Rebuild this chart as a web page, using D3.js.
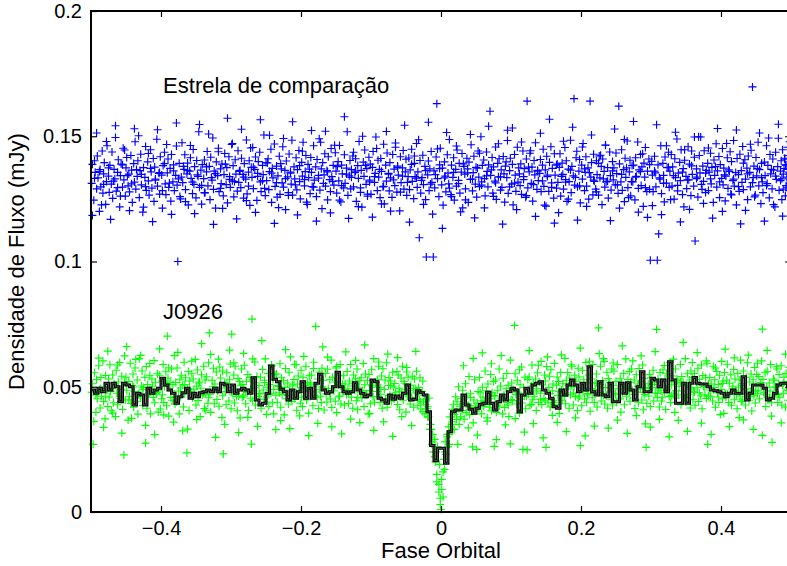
<!DOCTYPE html>
<html>
<head>
<meta charset="utf-8">
<script src="https://cdn.jsdelivr.net/npm/d3@7"></script>
<style>
  html, body { margin: 0; padding: 0; background: #fff; }
  svg { display: block; font-family: "Liberation Sans", Arial, Helvetica, sans-serif; }
</style>
</head>
<body>
<svg id="chart" width="787" height="566"></svg>
<script>
// Comparison star: orbital phase (in units of 0.001 cycle) and flux density (µJy)
const compPhase = [
-499,-498,-496,-495,-494,-492,-491,-490,-488,-487,-486,-484,-483,-482,-481,-479,-478,-477,-475,-474,
-473,-471,-470,-469,-467,-466,-465,-464,-462,-461,-459,-458,-457,-455,-454,-453,-451,-450,-449,-447,
-446,-445,-443,-442,-441,-439,-438,-437,-436,-434,-433,-431,-430,-429,-428,-426,-425,-423,-422,-421,
-419,-418,-417,-415,-414,-413,-411,-410,-409,-408,-406,-405,-403,-402,-401,-399,-398,-397,-395,-394,
-393,-391,-390,-389,-387,-386,-385,-383,-382,-381,-379,-378,-377,-376,-374,-373,-371,-370,-369,-367,
-366,-365,-363,-362,-361,-359,-358,-357,-355,-354,-353,-352,-350,-349,-347,-346,-345,-343,-342,-341,
-339,-338,-337,-335,-334,-333,-331,-330,-329,-327,-326,-325,-324,-322,-321,-319,-318,-317,-315,-314,
-313,-311,-310,-309,-307,-306,-305,-303,-302,-301,-299,-298,-297,-296,-294,-293,-291,-290,-289,-287,
-286,-285,-283,-282,-281,-279,-278,-277,-275,-274,-273,-271,-270,-269,-268,-266,-265,-263,-262,-261,
-259,-258,-257,-255,-254,-253,-251,-250,-249,-247,-246,-245,-243,-242,-241,-240,-238,-237,-235,-234,
-233,-231,-230,-229,-227,-226,-225,-223,-222,-221,-219,-218,-217,-215,-214,-213,-212,-210,-209,-207,
-206,-205,-203,-202,-201,-199,-198,-197,-195,-194,-193,-191,-190,-189,-187,-186,-185,-184,-182,-181,
-179,-178,-177,-175,-174,-173,-171,-170,-169,-167,-166,-165,-163,-162,-161,-159,-158,-157,-156,-154,
-153,-151,-150,-149,-147,-146,-145,-143,-142,-141,-139,-138,-137,-135,-134,-133,-131,-130,-129,-128,
-126,-125,-123,-122,-121,-119,-118,-117,-115,-114,-113,-111,-110,-109,-107,-106,-105,-103,-102,-101,
-100,-98,-97,-95,-94,-93,-91,-90,-89,-87,-86,-85,-83,-82,-81,-79,-78,-77,-75,-74,
-73,-72,-70,-69,-67,-66,-65,-63,-62,-61,-59,-58,-57,-55,-54,-53,-51,-50,-49,-47,
-46,-45,-44,-42,-41,-39,-38,-37,-35,-34,-33,-31,-30,-29,-27,-26,-25,-23,-22,-21,
-19,-18,-17,-16,-14,-13,-11,-10,-9,-7,-6,-5,-3,-2,-1,1,2,3,5,6,
7,9,10,11,12,14,15,17,18,19,21,22,23,25,26,27,29,30,31,33,
34,35,37,38,39,40,42,43,45,46,47,49,50,51,53,54,55,57,58,59,
61,62,63,65,66,67,68,70,71,73,74,75,77,78,79,81,82,83,85,86,
87,89,90,91,93,94,95,96,98,99,101,102,103,105,106,107,109,110,111,113,
114,115,117,118,119,121,122,123,124,126,127,129,130,131,133,134,135,137,138,139,
141,142,143,145,146,147,149,150,151,152,154,155,157,158,159,161,162,163,165,166,
167,169,170,171,173,174,175,177,178,179,180,182,183,185,186,187,189,190,191,193,
194,195,197,198,199,201,202,203,205,206,207,208,210,211,213,214,215,217,218,219,
221,222,223,225,226,227,229,230,231,233,234,235,236,238,239,241,242,243,245,246,
247,249,250,251,253,254,255,257,258,259,261,262,263,264,266,267,269,270,271,273,
274,275,277,278,279,281,282,283,285,286,287,289,290,291,292,294,295,297,298,299,
301,302,303,305,306,307,309,310,311,313,314,315,317,318,319,320,322,323,325,326,
327,329,330,331,333,334,335,337,338,339,341,342,343,345,346,347,348,350,351,353,
354,355,357,358,359,361,362,363,365,366,367,369,370,371,373,374,375,376,378,379,
381,382,383,385,386,387,389,390,391,393,394,395,397,398,399,401,402,403,404,406,
407,409,410,411,413,414,415,417,418,419,421,422,423,425,426,427,429,430,431,432,
434,435,437,438,439,441,442,443,445,446,447,449,450,451,453,454,455,457,458,459,
460,462,463,465,466,467,469,470,471,473,474,475,477,478,479,481,482,483,485,486,
487,488,489,490,491,492,493,494,495,496,497,498,499,500,487,489,491,493,495,497,
-498,-495,-492,-488,-485,-482,-478,-475,-472,-468,-465,-462,-458,-455,-452,-448,-445,-442,-438,-435,
-432,-428,-425,-422,-418,-415,-412,-408,-405,-402,-398,-395,-392,-388,-385,-382,-378,-375,-372,-368,
-365,-362,-358,-355,-352,-348,-345,-342,-338,-335,-332,-328,-325,-322,-318,-315,-312,-308,-305,-302,
-298,-295,-292,-288,-285,-282,-278,-275,-272,-268,-265,-262,-258,-255,-252,-248,-245,-242,-238,-235,
-232,-228,-225,-222,-218,-215,-212,-208,-205,-202,-198,-195,-192,-188,-185,-182,-178,-175,-172,-168,
-165,-162,-158,-155,-152,-148,-145,-142,-138,-135,-132,-128,-125,-122,-118,-115,-112,-108,-105,-102,
-98,-95,-92,-88,-85,-82,-78,-75,-72,-68,-65,-62,-58,-55,-52,-48,-45,-42,-38,-35,
-32,-28,-25,-22,-18,-15,-12,-8,-5,-2,2,5,8,12,15,18,22,25,28,32,
35,38,42,45,48,52,55,58,62,65,68,72,75,78,82,85,88,92,95,98,
102,105,108,112,115,118,122,125,128,132,135,138,142,145,148,152,155,158,162,165,
168,172,175,178,182,185,188,192,195,198,202,205,208,212,215,218,222,225,228,232,
235,238,242,245,248,252,255,258,262,265,268,272,275,278,282,285,288,292,295,298,
302,305,308,312,315,318,322,325,328,332,335,338,342,345,348,352,355,358,362,365,
368,372,375,378,382,385,388,392,395,398,402,405,408,412,415,418,422,425,428,432,
435,438,442,445,448,452,455,458,462,465,468,472,475,478,482,485,488,492,495,498
];
const compFlux = [
131.2,138.8,124.5,140.2,135.6,129.0,142.1,133.4,120.0,136.7,129.8,144.1,127.3,135.0,139.5,122.8,131.9,146.2,134.1,127.6,
138.4,130.9,143.7,125.2,136.8,133.0,149.5,128.1,135.6,140.6,121.8,134.3,138.9,129.7,145.2,132.6,126.1,137.4,141.5,130.2,
134.9,127.8,142.3,136.5,123.6,139.1,131.7,147.8,128.9,134.0,140.2,125.5,136.3,142.8,130.6,119.7,137.5,133.6,145.9,128.4,
139.8,132.2,126.5,144.6,135.8,129.3,141.1,124.0,137.7,132.9,148.8,130.1,135.2,126.9,141.8,134.5,121.3,138.3,143.6,131.0,
126.7,135.4,140.9,129.6,137.2,124.1,142.7,131.8,138.6,128.3,134.4,146.1,130.5,100.0,139.2,125.9,133.7,147.4,131.5,136.8,
142.6,128.7,135.0,139.3,122.6,136.1,141.4,133.2,127.1,144.7,130.8,137.9,125.4,140.3,134.0,151.8,129.6,136.5,122.9,138.7,
133.1,140.5,127.4,135.8,143.9,130.2,138.0,124.7,141.6,132.5,149.3,128.8,136.1,121.3,139.8,134.3,145.2,127.9,137.0,131.1,
138.9,126.2,134.7,143.1,130.7,137.5,123.4,141.8,133.9,129.6,146.7,132.2,138.3,125.8,140.6,134.9,128.1,144.2,131.6,136.4,
129.5,141.2,134.8,125.3,139.1,132.9,148.5,127.0,135.7,140.2,122.4,137.6,133.6,145.5,129.1,136.8,141.7,124.4,135.2,139.9,
143.6,131.8,127.9,138.4,134.7,150.5,126.3,139.5,132.3,141.0,128.7,135.9,144.8,123.6,137.2,133.4,146.9,130.0,138.1,125.7,
134.2,142.0,126.8,139.1,131.4,145.8,129.7,136.4,120.7,140.1,133.8,127.5,142.9,135.3,130.9,148.4,126.5,137.8,133.0,141.4,
128.6,136.7,144.3,131.9,125.0,139.6,134.1,147.6,130.2,135.9,142.3,122.8,138.8,133.5,127.1,141.5,135.6,129.9,146.2,132.5,
137.8,125.9,140.7,133.3,149.0,128.5,137.0,121.1,139.5,134.6,143.0,130.1,136.3,124.6,141.8,132.7,127.9,145.1,133.9,138.4,
130.5,143.4,136.1,127.3,139.9,132.2,146.3,123.8,138.5,135.0,129.4,142.6,131.2,137.3,151.8,126.4,134.2,140.3,129.0,136.7,
142.1,129.8,135.5,141.0,124.0,138.3,133.2,147.9,127.6,136.4,121.7,139.7,134.0,144.5,130.8,137.1,126.1,141.6,132.5,138.9,
126.8,137.6,143.9,131.6,135.2,149.7,128.3,140.4,133.7,125.5,141.1,136.0,129.8,146.8,123.0,138.5,132.1,143.3,134.9,128.2,
139.5,133.4,125.6,142.7,136.9,130.3,145.6,127.7,138.1,134.5,120.2,141.8,131.5,137.4,144.3,128.9,135.8,140.8,126.4,133.9,
141.3,128.7,136.6,144.8,132.0,125.1,139.2,133.9,147.1,129.6,135.8,109.5,140.3,127.3,133.5,142.4,130.7,138.0,124.7,101.8,
134.6,140.1,128.3,137.0,143.9,131.6,101.8,136.2,129.4,141.7,163.0,133.1,125.9,138.6,145.2,130.6,137.3,122.5,139.8,134.1,
127.8,142.6,135.3,131.0,148.7,126.7,138.5,133.6,141.4,124.5,136.8,130.1,144.5,132.4,139.2,127.3,135.7,143.1,121.4,138.0,
134.9,129.0,141.2,137.0,123.6,139.7,132.8,146.6,128.2,135.5,142.0,130.9,137.6,125.7,144.1,133.7,129.9,149.8,131.8,138.4,
140.5,133.1,126.2,143.7,136.0,129.8,138.6,160.0,134.4,141.5,127.3,137.8,132.1,145.7,124.8,139.2,133.8,141.0,128.5,136.6,
129.6,141.9,135.0,123.7,139.8,133.5,148.3,127.2,136.3,141.2,130.9,138.8,122.6,142.7,134.5,128.0,145.6,131.7,137.4,130.3,
139.0,126.8,144.1,132.7,137.1,125.6,140.9,164.0,129.4,135.8,143.2,131.2,137.7,124.1,140.3,134.6,147.4,128.8,136.1,132.3,
135.2,140.7,127.9,138.5,144.8,130.0,136.6,122.1,142.0,133.9,128.0,139.6,145.8,131.4,137.2,125.3,143.0,134.5,129.3,138.9,
131.6,137.6,143.0,126.1,139.3,134.8,128.9,145.5,132.7,140.2,124.0,136.9,131.9,148.4,127.5,138.0,134.2,165.0,130.5,141.4,
144.0,129.8,136.1,140.7,123.4,138.5,132.9,147.1,128.3,135.6,141.8,130.1,137.4,124.9,164.0,133.7,139.5,126.6,142.8,132.0,
128.9,140.2,134.7,126.5,142.1,133.4,138.0,122.7,140.9,136.0,129.7,146.4,131.8,137.5,125.3,143.7,134.3,128.5,139.9,132.6,
137.4,130.6,143.3,135.1,127.2,162.0,139.0,131.8,144.6,128.4,136.7,123.9,141.2,133.6,148.1,129.5,135.8,140.4,126.2,138.3,
131.8,138.5,124.6,141.4,134.0,147.7,129.2,136.6,142.7,130.3,137.8,122.0,139.3,133.7,145.5,127.9,136.1,140.9,128.8,100.5,
140.0,134.5,127.9,142.0,135.4,129.8,100.5,138.6,111.0,132.9,146.2,127.1,139.2,134.4,123.8,141.7,131.3,137.5,143.6,129.6,
136.1,142.7,130.1,137.8,124.9,141.0,133.5,148.9,128.2,135.3,139.6,132.3,144.6,126.7,137.1,121.8,140.4,134.0,129.1,145.8,
132.6,138.9,126.3,144.1,134.8,130.1,141.6,108.2,137.0,133.7,125.7,142.3,135.4,149.7,128.8,138.1,132.0,144.2,127.5,136.4,
139.2,128.3,135.7,143.2,131.0,137.6,123.6,140.5,134.4,147.0,129.7,136.2,141.9,125.5,138.7,133.2,145.1,130.6,137.3,124.2,
134.1,141.4,129.2,136.6,143.8,126.9,139.9,132.3,148.3,130.1,135.5,122.6,141.1,134.7,128.0,142.8,136.3,131.6,145.9,128.7,
140.6,132.9,137.3,124.7,142.1,135.6,129.8,144.4,169.7,133.5,138.1,126.5,141.5,134.2,147.6,130.2,136.7,123.1,139.2,131.8,
127.5,139.7,134.3,146.2,131.1,138.4,125.4,142.7,135.0,129.0,140.9,136.5,121.8,143.6,132.8,137.9,149.2,128.4,136.1,140.2,
133.0,144.6,128.9,137.1,140.8,126.2,138.5,133.7,142.3,129.6,135.7,147.8,131.3,139.0,124.7,134.9,141.2,130.3,136.8,128.3,
118.4,133.2,151.3,135.9,122.6,130.8,147.9,137.4,116.8,132.1,154.2,129.5,126.1,138.6,144.5,134.3,120.3,131.0,153.0,136.7,
150.2,134.8,121.7,129.9,143.1,137.2,115.9,132.5,152.6,135.5,128.3,139.1,146.7,131.3,118.8,136.2,155.3,133.0,125.0,138.0,
123.9,136.4,146.3,131.7,119.1,134.6,154.7,130.4,127.5,137.8,150.9,133.5,114.8,135.1,143.8,129.2,121.2,138.9,157.2,132.8,
147.1,131.9,117.0,136.0,152.8,133.7,124.3,130.1,145.3,137.6,119.6,134.0,156.6,132.3,129.2,139.4,150.4,135.3,115.2,131.5,
121.5,137.0,149.1,133.1,126.4,135.7,155.8,130.6,118.6,138.3,144.0,132.7,123.7,136.9,152.3,129.7,116.1,134.4,147.6,131.2,
152.0,135.8,119.4,132.0,146.4,137.9,124.5,130.3,157.8,134.9,117.2,133.6,143.6,136.1,121.9,129.4,150.0,138.4,126.9,131.8,
117.7,133.9,145.1,136.8,123.0,130.0,151.9,135.2,120.1,132.6,147.3,137.5,127.7,134.1,154.4,131.6,115.7,138.8,142.1,133.3,
148.6,132.4,122.8,136.3,155.6,130.9,118.9,134.7,144.9,137.1,113.2,133.4,151.5,129.3,125.9,135.6,146.1,131.1,119.8,139.0,
124.6,135.4,150.7,132.9,117.4,137.3,143.2,130.5,121.4,134.2,154.0,136.6,126.0,131.4,147.0,133.8,114.9,138.1,152.4,129.8,
153.3,131.3,120.7,135.0,147.7,133.9,126.3,137.7,144.2,130.7,118.0,136.4,151.2,132.2,122.5,134.5,156.8,129.6,115.3,138.5,
119.5,134.0,148.0,131.7,124.9,136.5,153.6,133.6,116.5,130.2,145.7,137.0,122.0,135.5,150.5,132.5,127.8,139.2,142.4,133.0,
146.5,132.0,116.3,136.2,152.9,130.6,121.3,134.8,148.7,137.4,125.5,131.9,155.9,133.7,119.7,135.9,143.0,129.5,117.6,138.7,
122.3,136.1,154.6,133.4,118.7,131.2,146.2,137.6,124.7,134.3,151.6,130.4,115.8,135.7,144.6,132.6,120.8,138.2,149.7,133.1,
149.8,130.8,123.2,135.3,145.3,133.0,117.3,137.9,153.1,131.8,120.0,134.6,147.1,136.0,126.6,132.9,152.5,129.9,115.0,139.3,
120.4,135.0,146.8,131.5,125.8,137.2,151.3,133.5,116.1,130.3,149.3,136.8,122.7,134.1,154.8,132.3,118.1,138.6,145.6,131.0
];

// J0926: orbital phase (in units of 0.001 cycle) and flux density (µJy)
const targetPhase = [
-499,-498,-497,-495,-494,-493,-492,-491,-489,-488,-487,-486,-485,-483,-482,-481,-480,-479,-477,-476,
-475,-474,-473,-471,-470,-469,-468,-467,-465,-464,-463,-462,-461,-459,-458,-457,-456,-455,-453,-452,
-451,-450,-449,-447,-446,-445,-444,-443,-441,-440,-439,-438,-437,-435,-434,-433,-432,-431,-429,-428,
-427,-426,-425,-423,-422,-421,-420,-419,-417,-416,-415,-414,-413,-411,-410,-409,-408,-407,-405,-404,
-403,-402,-401,-399,-398,-397,-396,-395,-393,-392,-391,-390,-389,-387,-386,-385,-384,-383,-381,-380,
-379,-378,-377,-375,-374,-373,-372,-371,-369,-368,-367,-366,-365,-363,-362,-361,-360,-359,-357,-356,
-355,-354,-353,-351,-350,-349,-348,-347,-345,-344,-343,-342,-341,-339,-338,-337,-336,-335,-333,-332,
-331,-330,-329,-327,-326,-325,-324,-323,-321,-320,-319,-318,-317,-315,-314,-313,-312,-311,-309,-308,
-307,-306,-305,-303,-302,-301,-300,-299,-297,-296,-295,-294,-293,-291,-290,-289,-288,-287,-285,-284,
-283,-282,-281,-279,-278,-277,-276,-275,-273,-272,-271,-270,-269,-267,-266,-265,-264,-263,-261,-260,
-259,-258,-257,-255,-254,-253,-252,-251,-249,-248,-247,-246,-245,-243,-242,-241,-240,-239,-237,-236,
-235,-234,-233,-231,-230,-229,-228,-227,-225,-224,-223,-222,-221,-219,-218,-217,-216,-215,-213,-212,
-211,-210,-209,-207,-206,-205,-204,-203,-201,-200,-199,-198,-197,-195,-194,-193,-192,-191,-189,-188,
-187,-186,-185,-183,-182,-181,-180,-179,-177,-176,-175,-174,-173,-171,-170,-169,-168,-167,-165,-164,
-163,-162,-161,-159,-158,-157,-156,-155,-153,-152,-151,-150,-149,-147,-146,-145,-144,-143,-141,-140,
-139,-138,-137,-135,-134,-133,-132,-131,-129,-128,-127,-126,-125,-123,-122,-121,-120,-119,-117,-116,
-115,-114,-113,-111,-110,-109,-108,-107,-105,-104,-103,-102,-101,-99,-98,-97,-96,-95,-93,-92,
-91,-90,-89,-87,-86,-85,-84,-83,-81,-80,-79,-78,-77,-75,-74,-73,-72,-71,-69,-68,
-67,-66,-65,-63,-62,-61,-60,-59,-57,-56,-55,-54,-53,-51,-50,-49,-48,-47,-45,-44,
-43,-42,-41,-39,-38,-37,-36,-35,-33,-32,-31,-30,-29,-27,-26,-25,-24,-23,-21,-20,
-19,-18,-17,-15,-14,-13,-12,-11,-9,-8,-7,-6,-5,-3,-2,-1,0,1,3,4,
5,6,7,9,10,11,12,13,15,16,17,18,19,21,22,23,24,25,27,28,
29,30,31,33,34,35,36,37,39,40,41,42,43,45,46,47,48,49,51,52,
53,54,55,57,58,59,60,61,63,64,65,66,67,69,70,71,72,73,75,76,
77,78,79,81,82,83,84,85,87,88,89,90,91,93,94,95,96,97,99,100,
101,102,103,105,106,107,108,109,111,112,113,114,115,117,118,119,120,121,123,124,
125,126,127,129,130,131,132,133,135,136,137,138,139,141,142,143,144,145,147,148,
149,150,151,153,154,155,156,157,159,160,161,162,163,165,166,167,168,169,171,172,
173,174,175,177,178,179,180,181,183,184,185,186,187,189,190,191,192,193,195,196,
197,198,199,201,202,203,204,205,207,208,209,210,211,213,214,215,216,217,219,220,
221,222,223,225,226,227,228,229,231,232,233,234,235,237,238,239,240,241,243,244,
245,246,247,249,250,251,252,253,255,256,257,258,259,261,262,263,264,265,267,268,
269,270,271,273,274,275,276,277,279,280,281,282,283,285,286,287,288,289,290,291,
292,293,294,296,297,298,299,300,302,303,304,305,306,308,309,310,311,312,313,314,
315,316,317,319,320,321,322,323,325,326,327,328,329,331,332,333,334,335,336,337,
338,339,340,342,343,344,345,346,348,349,350,351,352,354,355,356,357,358,359,360,
361,362,363,365,366,367,368,369,371,372,373,374,375,377,378,379,380,381,382,383,
384,385,386,388,389,390,391,392,394,395,396,397,398,400,401,402,403,404,405,406,
407,408,409,411,412,413,414,415,417,418,419,420,421,423,424,425,426,427,428,429,
430,431,432,434,435,436,437,438,440,441,442,443,444,446,447,448,449,450,451,452,
453,454,455,457,458,459,460,461,463,464,465,466,467,469,470,471,472,473,474,475,
476,477,478,480,481,482,483,484,486,487,488,489,490,492,493,494,495,496,497,498,
-496,-492,-489,-486,-482,-479,-476,-472,-469,-466,-462,-459,-456,-452,-449,-446,-442,-439,-436,-432,
-429,-426,-422,-419,-416,-412,-409,-406,-402,-399,-396,-392,-389,-386,-382,-379,-376,-372,-369,-366,
-362,-359,-356,-352,-349,-346,-342,-339,-336,-332,-329,-326,-322,-319,-316,-312,-309,-306,-302,-299,
-296,-292,-289,-286,-282,-279,-276,-272,-269,-266,-262,-259,-256,-252,-249,-246,-242,-239,-236,-232,
-229,-226,-222,-219,-216,-212,-209,-206,-202,-199,-196,-192,-189,-186,-182,-179,-176,-172,-169,-166,
-162,-159,-156,-152,-149,-146,-142,-139,-136,-132,-129,-126,-122,-119,-116,-112,-109,-106,-102,-99,
-96,-92,-89,-86,-82,-79,-76,-72,-69,-66,-62,-59,-56,-52,-49,-46,-42,-39,-36,-32,
-29,-26,-22,-19,-16,-12,-9,-6,-3,-1,1,3,6,9,12,16,19,22,26,29,
32,36,39,42,46,49,52,56,59,62,66,69,72,76,79,82,86,89,92,96,
99,102,106,109,112,116,119,122,126,129,132,136,139,142,146,149,152,156,159,162,
166,169,172,176,179,182,186,189,192,196,199,202,206,209,212,216,219,222,226,229,
232,236,239,242,246,249,252,256,259,262,266,269,272,276,279,282,286,289,292,296,
299,302,306,309,312,316,319,322,326,329,332,336,339,342,346,349,352,356,359,362,
366,369,372,376,379,382,386,389,392,396,399,402,406,409,412,416,419,422,426,429,
432,436,439,442,446,449,452,456,459,462,466,469,472,476,479,482,486,489,492,496
];
const targetFlux = [
47.8,51.2,27.0,55.6,46.7,39.8,52.9,45.2,58.4,48.9,41.5,53.7,46.2,60.3,44.1,49.8,37.2,54.5,48.6,42.1,
53.1,45.9,58.8,40.4,49.3,54.7,43.6,51.2,38.1,56.6,47.4,42.8,51.9,59.7,45.3,49.0,54.2,40.9,22.8,62.3,
44.7,53.8,48.6,36.7,52.1,46.2,59.4,43.3,50.5,55.1,41.8,48.2,57.5,44.0,52.7,39.1,46.9,61.2,45.5,50.3,
56.3,42.5,49.7,53.8,27.5,58.1,41.4,50.9,47.4,54.6,39.2,48.8,53.1,45.7,60.4,43.6,51.8,47.1,55.2,39.9,
48.4,54.6,41.1,52.3,46.8,58.9,43.7,50.1,56.0,42.4,70.2,53.5,38.3,51.8,45.7,57.1,44.6,50.9,62.4,43.0,
51.7,44.0,57.5,48.3,39.2,52.8,46.1,54.6,50.7,41.9,59.8,47.2,53.6,23.6,49.0,56.1,40.5,52.3,47.9,55.2,
45.6,53.1,48.8,60.9,42.7,50.3,56.7,44.5,51.9,38.1,49.4,54.8,46.6,58.2,41.3,52.7,47.1,54.0,43.4,59.6,
71.5,47.0,39.8,52.6,48.7,57.4,43.2,51.1,55.9,44.9,48.4,61.0,42.2,53.5,49.5,37.7,56.3,23.2,51.7,48.1,
42.8,55.6,49.7,44.3,52.8,59.1,41.2,71.0,46.8,54.7,43.5,58.2,49.0,40.4,53.3,46.3,52.1,37.6,57.1,45.8,
50.9,46.3,58.6,43.2,52.2,47.7,54.9,40.5,53.8,49.2,27.1,77.0,44.6,51.6,59.9,42.7,48.3,54.1,46.1,50.5,
47.3,53.8,41.4,56.9,48.7,45.0,52.6,61.1,43.9,49.8,55.3,42.1,50.9,47.4,58.7,43.6,53.0,39.2,54.8,46.6,
55.1,43.8,50.5,47.6,59.2,41.8,53.6,46.9,52.4,38.8,49.7,57.3,45.2,51.5,43.1,55.8,48.7,61.9,44.1,50.3,
46.7,52.9,45.2,58.8,40.6,51.1,54.3,47.9,43.4,56.6,49.6,42.1,53.8,46.2,50.5,58.2,44.7,51.8,39.5,54.4,
51.5,48.2,54.7,42.4,59.8,46.5,50.3,74.1,45.6,53.1,41.3,55.9,48.8,43.7,57.4,49.9,52.6,40.7,55.3,47.1,
43.9,57.0,49.3,52.8,45.1,60.6,41.7,53.8,48.4,51.9,44.2,57.5,39.7,50.7,54.6,46.3,58.9,43.1,51.2,47.8,
54.4,42.7,51.1,46.9,56.1,49.2,43.3,52.3,58.9,45.8,50.3,41.4,54.7,48.6,53.2,44.4,57.1,40.8,49.6,52.4,
47.6,53.6,45.5,59.3,42.1,50.8,55.1,46.7,52.6,39.2,54.9,48.5,43.2,56.8,50.3,45.9,61.2,43.8,51.7,48.1,
52.8,46.1,58.2,43.7,49.6,54.3,41.4,57.2,48.9,52.7,45.0,59.6,41.8,50.5,53.7,46.6,52.3,44.2,55.8,49.9,
45.2,51.3,47.8,56.1,42.9,54.7,49.4,40.8,53.5,47.1,58.2,44.6,52.1,49.0,39.9,55.9,46.3,53.8,48.4,43.1,
50.6,45.7,54.2,41.8,53.1,47.5,49.3,56.2,42.6,49.7,44.8,53.6,41.1,48.2,52.3,43.9,46.5,39.2,44.8,41.2,
42.0,38.0,45.5,35.0,33.0,27.0,31.0,24.0,29.0,20.0,24.0,15.0,26.0,11.0,19.0,5.5,1.0,13.0,6.0,21.0,
17.0,28.0,23.0,30.0,26.0,34.0,31.0,38.0,35.0,41.0,33.0,43.0,39.0,46.0,37.0,44.0,27.0,50.0,42.0,38.0,
45.2,40.5,48.6,37.1,43.8,51.2,39.7,46.3,42.5,54.1,38.9,47.2,41.8,26.0,35.6,44.7,52.8,40.2,25.0,43.3,
48.1,41.5,53.7,44.3,39.2,49.8,45.9,42.1,56.3,43.7,48.4,37.6,51.1,45.2,42.9,54.9,40.4,47.6,52.1,26.2,
46.2,52.7,39.8,48.6,44.1,57.1,42.3,50.3,45.6,39.2,53.4,46.8,41.7,49.2,55.3,43.7,50.6,38.1,27.2,44.9,
51.5,44.4,48.9,74.5,55.2,46.9,43.1,52.6,47.5,39.4,50.8,45.1,57.9,25.0,49.7,46.3,53.8,41.2,24.8,52.9,
47.1,53.9,42.6,50.3,58.7,44.8,51.4,46.2,53.1,40.5,49.2,55.6,43.7,51.8,47.4,60.1,42.9,50.7,45.3,54.7,
52.3,25.8,58.1,43.6,49.7,54.2,41.9,56.8,48.4,51.1,44.6,59.3,42.8,50.6,53.9,46.5,52.1,39.3,55.7,48.7,
44.6,51.2,47.9,61.3,43.2,52.6,49.1,55.7,41.4,53.5,46.8,50.4,58.2,42.7,49.9,54.6,46.1,52.2,40.5,57.4,
53.9,46.3,26.5,42.4,56.6,48.2,52.8,45.1,59.7,43.8,51.6,47.3,54.7,40.2,49.3,53.1,45.6,58.9,43.7,51.2,
48.8,55.1,41.9,73.5,47.7,50.9,58.2,44.3,52.4,46.5,60.1,43.1,49.7,55.8,41.4,53.3,47.9,51.6,44.8,57.1,
42.7,50.4,56.3,46.8,52.1,43.7,58.9,49.2,45.5,53.4,39.9,51.7,47.6,55.3,42.8,50.6,61.1,46.2,52.9,48.6,
56.1,44.2,51.8,48.7,60.3,45.5,52.7,41.3,54.8,47.9,50.2,43.6,57.3,49.1,52.1,44.7,58.7,40.8,53.4,46.9,
49.6,25.8,43.4,51.2,46.3,54.9,42.1,53.6,49.7,56.6,44.3,51.8,47.5,72.9,45.8,53.1,49.2,41.9,55.7,48.4,
44.3,51.9,56.7,47.6,53.1,40.9,55.2,48.8,52.4,46.1,59.7,43.7,50.8,54.3,47.2,51.6,39.8,57.1,45.5,53.0,
52.4,46.7,50.2,58.9,42.8,54.1,48.3,51.7,45.6,61.2,43.9,50.4,55.2,46.8,52.7,41.5,56.3,49.1,53.6,44.8,
47.9,55.3,42.6,51.8,49.6,57.4,44.1,52.9,46.3,58.7,41.2,54.5,50.2,46.8,53.6,45.3,59.4,27.0,51.1,48.7,
53.7,46.2,51.1,44.3,58.2,49.7,52.8,41.8,56.1,47.6,50.9,43.7,54.6,48.9,60.1,45.2,52.3,39.4,55.7,47.4,
45.8,52.6,59.0,43.7,51.4,47.3,54.8,42.6,50.2,56.9,44.8,53.1,48.5,41.2,55.3,49.6,52.7,46.3,60.6,44.1,
51.2,44.7,56.3,48.9,42.7,53.8,47.1,59.6,44.6,51.9,48.2,55.1,40.3,52.8,46.4,57.7,43.5,50.8,54.9,47.2,
48.6,54.1,45.2,51.7,60.3,73.0,52.9,47.8,55.6,42.1,49.8,56.2,44.7,51.5,48.3,58.9,43.8,27.8,46.7,53.1,
52.6,46.3,49.8,57.1,43.7,51.2,54.9,45.8,58.4,42.7,50.6,47.2,53.8,41.9,55.3,48.7,52.1,44.6,57.8,49.3,
36.2,47.5,61.4,49.3,33.8,45.9,64.2,48.1,39.5,50.6,58.7,46.3,31.5,51.8,66.0,44.7,37.4,49.9,60.9,47.0,
62.5,48.8,34.6,46.6,59.3,50.2,30.9,47.7,65.1,45.2,38.8,51.3,57.6,48.4,35.9,46.0,63.7,49.5,32.4,50.9,
33.1,49.1,60.2,46.8,36.9,51.5,67.2,47.3,40.6,45.6,62.9,50.0,29.8,48.6,57.9,46.4,35.0,51.1,64.6,47.8,
59.6,46.1,31.7,50.4,63.3,48.0,37.8,45.4,61.1,49.6,34.2,47.1,68.4,51.7,39.0,46.9,58.3,48.9,32.9,50.1,
36.5,48.3,64.8,46.5,33.3,50.8,59.0,47.6,38.4,45.8,62.1,49.4,30.5,51.0,57.3,47.9,35.4,46.2,65.9,48.7,
61.8,47.2,34.0,50.3,58.1,46.0,31.2,49.0,63.9,47.4,37.1,51.4,60.5,45.7,35.7,48.5,66.7,46.7,39.3,50.7,
32.6,49.8,59.9,47.0,36.0,45.3,63.0,50.5,30.2,46.6,61.6,48.2,38.1,51.2,57.7,46.3,34.5,49.2,64.1,47.7,
44.0,40.0,43.0,38.0,33.0,28.0,22.0,12.0,8.0,3.0,9.0,16.0,24.0,31.0,27.0,36.0,33.0,40.0,35.0,43.0,
58.4,43.1,33.6,45.7,61.3,42.4,30.7,47.6,63.5,44.2,36.3,41.8,59.2,46.5,28.9,43.9,62.4,45.1,34.8,42.7,
60.6,44.6,37.3,47.9,56.8,43.5,31.9,46.2,64.4,42.9,35.3,48.3,58.6,45.0,29.6,44.4,61.9,47.2,38.6,43.8,
35.8,48.1,62.7,46.1,32.1,50.4,58.8,47.5,37.6,45.5,65.4,49.7,30.4,46.8,60.0,48.6,34.3,51.6,63.2,47.1,
61.2,46.4,33.5,49.5,59.5,47.4,36.7,45.1,66.3,50.2,31.4,48.0,57.1,46.9,38.5,51.1,62.3,47.8,35.2,49.3,
33.9,50.9,64.0,47.3,37.0,45.6,58.5,49.0,30.0,46.5,61.0,48.4,36.6,51.9,67.7,46.0,32.2,49.7,59.7,47.9,
63.6,47.6,35.5,50.0,60.3,46.3,31.0,48.8,57.5,45.9,38.9,51.3,65.0,47.2,34.1,49.1,61.5,46.7,37.7,50.5,
36.8,49.4,62.6,46.0,33.0,48.2,59.4,50.8,30.6,47.0,64.5,45.3,38.3,49.9,58.0,46.9,35.6,51.4,63.0,48.5
];

// J0926 binned light curve (µJy), equal-width phase bins starting at binStart
const binStart = -0.5;
const binWidth = 0.005;
const binFlux = [
48.7,47.4,49.4,48.0,51.4,48.7,51.4,50.0,44.0,51.4,
50.7,50.0,42.7,47.4,46.7,42.7,49.4,47.4,48.7,49.4,
53.4,50.7,48.7,47.4,43.4,46.0,47.6,49.4,45.4,47.4,
46.0,47.6,48.0,48.7,48.0,49.4,48.0,51.4,50.7,48.0,
50.7,47.4,48.7,49.4,48.7,47.4,53.6,44.7,42.7,43.4,
47.4,58.3,53.0,52.0,49.0,48.0,44.7,48.7,45.4,48.0,
52.0,45.4,49.4,45.4,51.4,55.0,48.7,47.4,48.0,50.0,
55.8,50.0,48.0,47.4,48.0,51.6,48.7,47.4,46.0,46.7,
52.7,52.0,45.4,44.7,43.4,46.7,45.0,46.3,45.4,47.4,
50.7,44.7,45.0,48.4,47.6,46.7,
40.0,26.5,20.5,25.4,25.4,19.5,32.0,40.0,
40.7,40.7,46.7,42.7,41.0,39.4,41.4,43.0,43.4,47.8,
43.4,40.7,44.0,46.7,44.7,48.0,49.4,48.7,40.0,46.7,
49.4,47.4,50.7,51.4,52.0,48.7,47.4,45.4,42.0,41.4,
48.7,46.7,50.7,52.7,50.7,48.0,51.4,48.7,58.0,48.0,
46.7,52.0,46.7,46.0,
51.4,44.0,44.0,51.4,47.4,51.6,48.7,44.7,50.0,56.0,
48.0,48.0,53.4,52.7,50.0,52.7,48.0,60.0,52.7,43.4,
43.4,51.4,43.4,51.4,53.7,51.4,51.1,51.1,50.0,48.7,
48.4,48.0,47.4,46.0,47.4,48.7,47.4,47.4,54.0,44.7,
47.4,50.7,50.7,50.7,49.4,44.7,45.4,47.4,50.7,51.4,
51.4,50.0
];

// Axis ticks and text
const xTicks = [-0.4, -0.2, 0, 0.2, 0.4];
const yTicks = [0, 0.05, 0.1, 0.15, 0.2];
const xTitle = "Fase Orbital";
const yTitle = "Densidade de Fluxo (mJy)";
const compLabel = "Estrela de comparação";
const targetLabel = "J0926";

const frame = { left: 91, right: 791, top: 11, bottom: 512 };
const x = d3.scaleLinear().domain([-0.5, 0.5]).range([frame.left, frame.right]);
const y = d3.scaleLinear().domain([0, 0.2]).range([frame.bottom, frame.top]);

const svg = d3.select("#chart");
svg.append("rect").attr("width", 787).attr("height", 566).attr("fill", "#fff");

// plus-shaped point marker
const plus = "M-4,0H4M0,-4V4";

function drawPoints(phase, flux, color) {
  svg.append("g")
    .attr("fill", "none")
    .attr("stroke", color)
    .attr("stroke-width", 1.15)
    .selectAll("path")
    .data(d3.zip(phase, flux))
    .join("path")
    .attr("d", plus)
    .attr("transform", d => `translate(${x(d[0] / 1000)},${y(d[1] / 1000)})`);
}

drawPoints(compPhase, compFlux, "#0000ff");
drawPoints(targetPhase, targetFlux, "#00ff00");

// binned light curve as a step line
const edges = d3.range(binFlux.length + 1).map(i => binStart + i * binWidth);
const stepPoints = edges.map((e, i) => [e, binFlux[Math.min(i, binFlux.length - 1)]]);
const stepLine = d3.line()
  .x(d => x(d[0]))
  .y(d => y(d[1] / 1000))
  .curve(d3.curveStepAfter);

svg.append("path")
  .datum(stepPoints)
  .attr("d", stepLine)
  .attr("fill", "none")
  .attr("stroke", "#000")
  .attr("stroke-width", 3)
  .attr("stroke-linejoin", "miter");
svg.append("path")
  .datum(stepPoints)
  .attr("d", stepLine)
  .attr("fill", "none")
  .attr("stroke", "#5a5a5a")
  .attr("stroke-width", 0.8)
  .attr("stroke-linejoin", "miter");

// axes with inward ticks on all four sides
const fmtX = d => d === 0 ? "0" : String(d).replace("-", "\u2212");
const fmtY = d => String(d);

function styleAxis(g) {
  g.select(".domain").remove();
  g.selectAll(".tick line").attr("stroke", "#000").attr("stroke-width", 1.2);
  g.selectAll(".tick text").attr("fill", "#000").attr("font-size", 20)
    .attr("font-family", "\"Liberation Sans\", Arial, Helvetica, sans-serif");
}

svg.append("g")
  .attr("transform", `translate(0,${frame.bottom})`)
  .call(d3.axisBottom(x).tickValues(xTicks).tickFormat(fmtX).tickSize(-6).tickPadding(9))
  .call(styleAxis);
svg.append("g")
  .attr("transform", `translate(0,${frame.top})`)
  .call(d3.axisTop(x).tickValues(xTicks).tickFormat("").tickSize(-6))
  .call(styleAxis);
svg.append("g")
  .attr("transform", `translate(${frame.left},0)`)
  .call(d3.axisLeft(y).tickValues(yTicks).tickFormat(fmtY).tickSize(-6).tickPadding(9))
  .call(styleAxis);
svg.append("g")
  .attr("transform", `translate(${frame.right},0)`)
  .call(d3.axisRight(y).tickValues(yTicks).tickFormat("").tickSize(-6))
  .call(styleAxis);

svg.append("rect")
  .attr("x", frame.left)
  .attr("y", frame.top)
  .attr("width", frame.right - frame.left)
  .attr("height", frame.bottom - frame.top)
  .attr("fill", "none")
  .attr("stroke", "#000")
  .attr("stroke-width", 2);

// titles and series labels
svg.append("text")
  .attr("x", x(0))
  .attr("y", 558)
  .attr("text-anchor", "middle")
  .attr("font-size", 22)
  .text(xTitle);

svg.append("text")
  .attr("transform", `translate(24,${y(0.1)}) rotate(-90)`)
  .attr("text-anchor", "middle")
  .attr("font-size", 22)
  .text(yTitle);

svg.append("text")
  .attr("x", x(-0.397))
  .attr("y", y(0.1673))
  .attr("font-size", 22)
  .text(compLabel);

svg.append("text")
  .attr("x", x(-0.397))
  .attr("y", y(0.0771))
  .attr("font-size", 22)
  .text(targetLabel);
</script>
</body>
</html>
